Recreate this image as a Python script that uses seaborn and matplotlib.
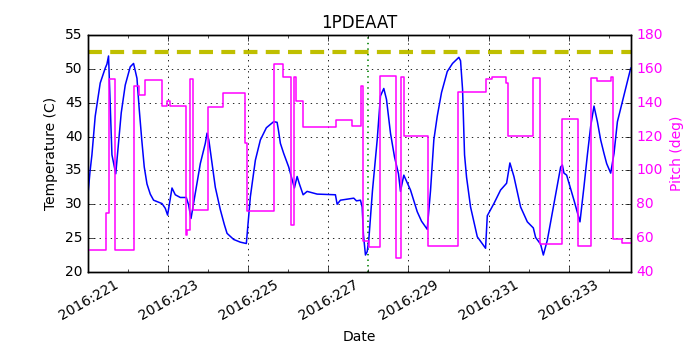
import numpy as np
import pandas as pd
import seaborn as sns
import matplotlib
matplotlib.use("Agg")
import matplotlib.pyplot as plt
from matplotlib.ticker import MultipleLocator, FuncFormatter

# temperature trace (day of year 2016, deg C)
temp_day = [221.000, 221.045, 221.093, 221.175, 221.300, 221.425, 221.468, 221.508, 221.593, 221.688,
            221.750, 221.825, 221.925, 222.050, 222.133, 222.218, 222.275, 222.338,
            222.400, 222.468, 222.550, 222.633, 222.843, 222.925, 222.983, 223.093,
            223.175, 223.300, 223.450, 223.508, 223.568, 223.675, 223.800, 223.925,
            223.968, 224.013, 224.093, 224.175, 224.300, 224.400, 224.468, 224.633,
            224.800, 224.950, 225.050, 225.175, 225.300, 225.450, 225.633, 225.718,
            225.750, 225.800, 225.883, 226.008, 226.150, 226.218, 226.275, 226.368,
            226.468, 226.718, 227.175, 227.218, 227.300, 227.633, 227.700, 227.800,
            227.843, 227.875, 227.925, 227.968, 228.008, 228.100, 228.218, 228.300,
            228.383, 228.450, 228.550, 228.650, 228.750, 228.800, 228.883, 229.050,
            229.218, 229.325, 229.468, 229.550, 229.633, 229.718, 229.825, 229.968,
            230.100, 230.258, 230.300, 230.350, 230.400, 230.450, 230.550, 230.718,
            230.925, 230.968, 231.133, 231.300, 231.450, 231.533, 231.633, 231.800,
            231.968, 232.118, 232.175, 232.300, 232.368, 232.468, 232.633, 232.800,
            232.843, 232.883, 232.950, 233.133, 233.283, 233.383, 233.468, 233.550,
            233.633, 233.718, 233.800, 233.883, 233.950, 234.050, 234.133, 234.218,
            234.550]
temp_val = [31.8, 34.8, 37.3, 43.0, 47.9, 50.1, 50.7, 51.9, 37.3, 34.5,
            38.5, 43.5, 47.6, 50.3, 50.8, 48.6, 44.0, 39.5,
            35.5, 33.0, 31.5, 30.6, 30.1, 29.4, 28.4, 32.4,
            31.4, 31.0, 31.0, 29.9, 27.9, 31.6, 36.0, 39.0,
            40.5, 39.5, 36.0, 32.5, 29.2, 27.0, 25.7, 24.8,
            24.4, 24.2, 31.1, 36.5, 39.5, 41.3, 42.2, 42.1,
            41.0, 39.0, 37.5, 35.5, 32.4, 34.1, 33.0, 31.4,
            31.9, 31.5, 31.4, 30.0, 30.6, 30.9, 30.5, 30.6,
            29.6, 25.5, 22.5, 23.0, 24.7, 32.0, 39.5, 46.0,
            47.1, 45.5, 40.5, 37.0, 34.5, 31.9, 34.3, 32.1,
            28.9, 27.5, 26.3, 32.0, 39.5, 43.0, 46.5, 49.6,
            50.8, 51.7, 51.2, 47.0, 37.3, 34.0, 29.6, 25.2,
            23.5, 28.3, 30.1, 32.1, 33.1, 36.1, 34.1, 29.6,
            27.4, 26.5, 25.1, 24.1, 22.5, 24.7, 30.1, 35.5,
            35.8, 34.6, 34.3, 30.6, 27.4, 32.6, 37.3, 41.5,
            44.5, 42.2, 39.5, 37.5, 36.0, 34.6, 37.5, 42.2,
            50.1]

# pitch trace (step changes)
pitch_day = [221.000, 221.450, 221.508, 221.663, 222.133, 222.275, 222.425, 222.843,
             222.975, 223.038, 223.433, 223.475, 223.550, 223.618, 223.983, 224.368,
             224.925, 224.963, 225.650, 225.868, 226.068, 226.133, 226.200, 226.358,
             227.193, 227.593, 227.825, 227.868, 228.008, 228.300, 228.688, 228.813,
             228.883, 229.483, 230.233, 230.925, 231.093, 231.425, 231.488, 232.108,
             232.288, 232.838, 233.233, 233.550, 233.718, 234.050, 234.113, 234.343,
             234.550]
pitch_val = [53, 75, 154, 53, 150, 144.6, 153.4, 138,
             141, 138, 62, 65, 154, 76.4, 137.2, 145.6,
             116, 76, 163, 155.4, 68, 155.4, 141.2, 125.9,
             130, 126, 150, 58, 55, 156, 48, 155,
             120.4, 55.4, 146.5, 154, 155, 151.5, 120.3, 154.8,
             56.6, 130.4, 55.4, 154.4, 153, 155, 59.3, 57,
             57]

day_ticks = [221, 223, 225, 227, 229, 231, 233]
planning_limit = 52.5
upper_limit = 55.0
now_day = 228.0

temp_df = pd.DataFrame({"day": temp_day, "temp": temp_val})
pitch_df = pd.DataFrame({"day": pitch_day, "pitch": pitch_val})

plt.style.use("classic")
plt.rcParams["font.family"] = ["DejaVu Sans"]
plt.rcParams["font.size"] = 10
plt.rcParams["lines.scale_dashes"] = False

fig, ax = plt.subplots(figsize=(7, 3.5), dpi=100, facecolor="white")
fig.subplots_adjust(left=0.126, right=0.901, top=0.9, bottom=0.223)

sns.lineplot(data=temp_df, x="day", y="temp", ax=ax, color="b", lw=1.1,
             estimator=None, sort=False, zorder=3)
ax.axhline(planning_limit, color="y", lw=3, linestyle=(0, (10, 6)), zorder=2)
ax.axhline(upper_limit, color="#9a9a00", lw=1.5, zorder=2)
ax.axvline(now_day, color="g", lw=1.2, linestyle=(0, (1, 3)), zorder=2)

ax.set_xlim(221.0, 234.55)
ax.set_ylim(20, 55)
ax.set_xticks(day_ticks)
ax.xaxis.set_minor_locator(MultipleLocator(1))
ax.xaxis.set_major_formatter(FuncFormatter(lambda v, p: "2016:%d" % int(round(v))))
ax.yaxis.set_major_locator(MultipleLocator(5))
ax.grid(True, which="major", color="k", linestyle=(0, (1, 3)), lw=0.6)
plt.setp(ax.get_xticklabels(), rotation=30)
ax.set_xlabel("Date")
ax.set_ylabel("Temperature (C)")
ax.set_title("1PDEAAT", fontsize=12)

ax2 = ax.twinx()
sns.lineplot(data=pitch_df, x="day", y="pitch", ax=ax2, color="magenta", lw=1.1,
             estimator=None, sort=False, drawstyle="steps-post")
ax2.set_ylim(40, 180)
ax2.set_xlim(221.0, 234.55)
ax2.yaxis.set_major_locator(MultipleLocator(20))
ax2.set_ylabel("Pitch (deg)", color="magenta")
ax2.tick_params(axis="y", labelcolor="magenta")

fig.savefig("out.png", dpi=100, facecolor="white")
